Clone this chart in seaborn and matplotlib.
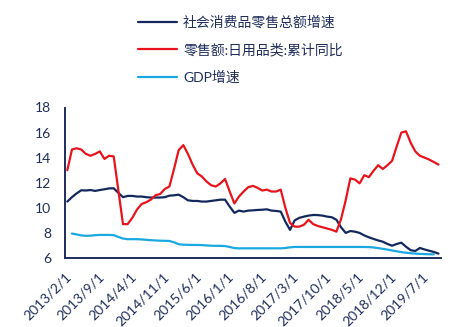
import matplotlib
matplotlib.use("Agg")
import matplotlib.pyplot as plt
import seaborn as sns
import numpy as np
import pandas as pd

# ---- data (monthly, 2013/2 .. 2019/10) ----
months = [f"{y}/{m}/1" for y in range(2013, 2020) for m in range(1, 13)][1:82]

retail_total = [10.5, 10.85, 11.15, 11.4, 11.38, 11.42, 11.35, 11.42, 11.48, 11.55,
                11.56, 11.2, 10.85, 10.95, 10.95, 10.9, 10.9, 10.85, 10.82, 10.82,
                10.82, 10.85, 10.97, 11.0, 11.05, 10.85, 10.6, 10.55, 10.55, 10.5,
                10.5, 10.55, 10.6, 10.65, 10.65, 10.1, 9.6, 9.78, 9.7, 9.78,
                9.8, 9.83, 9.85, 9.88, 9.78, 9.75, 9.7, 8.9, 8.24, 9.0,
                9.2, 9.3, 9.38, 9.43, 9.42, 9.38, 9.3, 9.25, 9.05, 8.45,
                8.0, 8.15, 8.1, 8.0, 7.8, 7.65, 7.52, 7.4, 7.3, 7.12,
                6.98, 7.12, 7.22, 6.9, 6.62, 6.56, 6.8, 6.68, 6.58, 6.48,
                6.35]

daily_goods = [13.0, 14.65, 14.75, 14.65, 14.3, 14.15, 14.3, 14.5, 13.9, 14.15,
               14.1, 11.4, 8.7, 8.7, 9.2, 9.85, 10.3, 10.45, 10.65, 11.0,
               11.1, 11.5, 11.7, 13.1, 14.6, 15.0, 14.3, 13.45, 12.75, 12.5,
               12.1, 11.8, 11.7, 11.95, 12.3, 11.3, 10.35, 10.9, 11.3, 11.65,
               11.75, 11.6, 11.38, 11.45, 11.3, 11.3, 11.45, 10.0, 8.8, 8.5,
               8.5, 8.65, 9.05, 8.7, 8.55, 8.45, 8.35, 8.25, 8.1, 9.1,
               10.6, 12.35, 12.25, 11.95, 12.6, 12.45, 12.95, 13.4, 13.1, 13.4,
               13.75, 14.9, 16.0, 16.1, 15.2, 14.5, 14.15, 14.0, 13.85, 13.65,
               13.45]

gdp = [np.nan, 7.95, 7.88, 7.8, 7.77, 7.78, 7.82, 7.84, 7.84, 7.84,
       7.82, 7.68, 7.55, 7.5, 7.5, 7.5, 7.48, 7.45, 7.42, 7.4,
       7.38, 7.37, 7.36, 7.25, 7.1, 7.06, 7.05, 7.04, 7.04, 7.03,
       7.0, 6.98, 6.97, 6.97, 6.95, 6.88, 6.79, 6.77, 6.77, 6.77,
       6.77, 6.77, 6.77, 6.77, 6.77, 6.77, 6.77, 6.8, 6.85, 6.88,
       6.88, 6.88, 6.88, 6.88, 6.88, 6.88, 6.88, 6.88, 6.88, 6.88,
       6.88, 6.88, 6.88, 6.88, 6.88, 6.87, 6.84, 6.79, 6.73, 6.67,
       6.6, 6.53, 6.47, 6.42, 6.38, 6.35, 6.33, 6.31, 6.3, 6.29,
       np.nan]

series_names = ["社会消费品零售总额增速", "零售额:日用品类:累计同比", "GDP增速"]
colors = ["#13285c", "#e8141c", "#1aa8e0"]
yticks = [6, 8, 10, 12, 14, 16, 18]
xtick_labels = ["2013/2/1", "2013/9/1", "2014/4/1", "2014/11/1", "2015/6/1", "2016/1/1",
                "2016/8/1", "2017/3/1", "2017/10/1", "2018/5/1", "2018/12/1", "2019/7/1"]

# ---- build long table ----
idx = np.arange(len(months))
frames = []
for name, vals in zip(series_names, [retail_total, daily_goods, gdp]):
    frames.append(pd.DataFrame({"idx": idx, "value": vals, "series": name}))
df = pd.concat(frames).dropna()

sns.set_theme(style="white")
plt.rcParams["font.family"] = ["Lato", "Noto Sans CJK SC", "DejaVu Sans"]
text_color = "#1f2d5c"

fig = plt.figure(figsize=(4.6, 3.27), dpi=100)
ax = fig.add_axes([65 / 460, 1 - 258 / 327, (440.8 - 65) / 460, (258 - 107.5) / 327])

sns.lineplot(data=df, x="idx", y="value", hue="series", hue_order=series_names,
             palette=colors, linewidth=1.6, ax=ax, legend=True)

ax.set_xlim(-0.5, len(months) - 0.5)
ax.set_ylim(6, 18)
ax.set_yticks(yticks)
ax.set_yticklabels([str(v) for v in yticks])
tick_pos = [months.index(l) - 0.5 for l in xtick_labels]
ax.set_xticks(tick_pos)
ax.set_xticklabels(xtick_labels, rotation=45, ha="right", va="top",
                   rotation_mode="anchor")
ax.set_xlabel("")
ax.set_ylabel("")

for s in ["top", "right"]:
    ax.spines[s].set_visible(False)
for s in ["left", "bottom"]:
    ax.spines[s].set_color(text_color)
    ax.spines[s].set_linewidth(1.4)

ax.tick_params(axis="both", direction="in", length=3.5, width=1.2, color=text_color,
               labelcolor=text_color, labelsize=10)
ax.tick_params(axis="y", pad=10)
ax.tick_params(axis="x", pad=9)

handles, labels = ax.get_legend_handles_labels()
ax.legend(handles, labels, loc="upper left", bbox_to_anchor=(138 / 460, 0.953),
          bbox_transform=fig.transFigure, frameon=False, borderpad=0,
          borderaxespad=0, handlelength=2.8, handletextpad=0.45, labelspacing=1.0,
          fontsize=10, labelcolor=text_color)

fig.savefig("out.png", dpi=100)
